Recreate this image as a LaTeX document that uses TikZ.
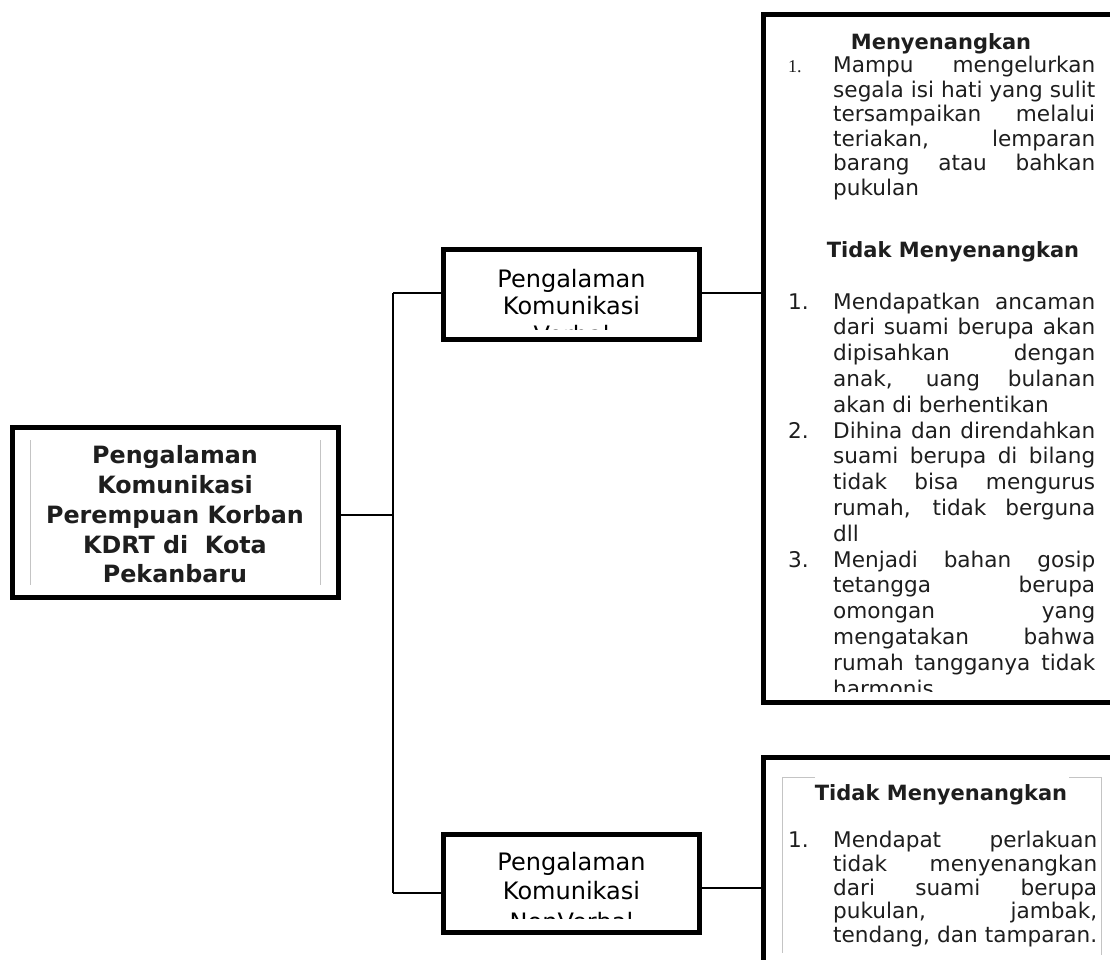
\documentclass[tikz,border=0pt]{standalone}
\usepackage{fontspec}
\setmainfont{DejaVu Sans}
\newfontfamily\numserif{Liberation Serif}
\definecolor{ink}{HTML}{1E1E1E}
\definecolor{framegrey}{HTML}{C4C4C4}
\newcommand\jl[2]{\makebox[#1][s]{#2}}
\tikzset{
  boxnode/.style={draw=black, line width=5pt, fill=white, inner sep=0pt},
  conn/.style={draw=black, line width=1.8pt},
  thinframe/.style={draw=framegrey, line width=1pt},
  ln/.style={anchor=base west, inner sep=0pt, text=ink, font=\fontsize{21.6}{25}\selectfont},
  num/.style={anchor=base west, inner sep=0pt, text=ink, font=\fontsize{21.6}{25}\selectfont},
  head/.style={anchor=base, inner sep=0pt, text=ink, font=\fontsize{21}{25}\selectfont\bfseries},
  mainln/.style={anchor=base, inner sep=0pt, text=ink, font=\fontsize{23.8}{29}\selectfont\bfseries},
  midln/.style={anchor=base, inner sep=0pt, text=black, font=\fontsize{24}{27}\selectfont},
}
\begin{document}
\begin{tikzpicture}[x=1pt,y=-1pt]
\useasboundingbox (0,0) rectangle (1110,960);
\clip (0,0) rectangle (1110,960);
\fill[white] (0,0) rectangle (1110,960);

% boxes
\node[boxnode, minimum width=326pt, minimum height=170pt] (main) at (175.5,512.5) {};
\node[boxnode, minimum width=256pt, minimum height=90pt] (verbal) at (571.5,294.5) {};
\node[boxnode, minimum width=256pt, minimum height=98pt] (nonverbal) at (571.5,883.5) {};
\node[boxnode, minimum width=356.5pt, minimum height=688pt] (big1) at (941.75,358.5) {};
\node[boxnode, minimum width=356.5pt, minimum height=217.5pt] (big2) at (941.75,866.25) {};

% connectors
\coordinate (jmid) at (393,515);
\coordinate (jtop) at (393,293);
\coordinate (jbot) at (393,893);
\coordinate (jnv) at (702,888);
\draw[conn] (main.east |- jmid) -- (jmid);
\draw[conn] (jtop) -- (jbot);
\draw[conn] (jtop) -- (verbal.west |- jtop);
\draw[conn] (jbot) -- (nonverbal.west |- jbot);
\draw[conn] (verbal.east |- jtop) -- (big1.west |- jtop);
\draw[conn] (nonverbal.east |- jnv) -- (big2.west |- jnv);

% main box inner grey lines
\draw[thinframe] (30,440) -- (30,585);
\draw[thinframe] (320,440) -- (320,585);
\node[mainln] (m1) at (175,463) {Pengalaman};
\node[mainln] (m2) at (175,493) {Komunikasi};
\node[mainln] (m3) at (175,523) {Perempuan Korban};
\node[mainln] (m4) at (175,553) {KDRT di\ \ Kota};
\node[mainln] (m5) at (175,582) {Pekanbaru};

% verbal text (clipped)
\begin{scope}
\clip (446,252) rectangle (697,329);
\node[midln] (v1) at (571.5,287) {Pengalaman};
\node[midln] (v2) at (571.5,314) {Komunikasi};
\node[midln] (v3) at (571.5,343.5) {Verbal};
\end{scope}

% nonverbal text (clipped)
\begin{scope}
\clip (446,837) rectangle (697,918);
\node[midln] (n1) at (571.5,870.5) {Pengalaman};
\node[midln] (n2) at (571.5,899) {Komunikasi};
\node[midln] (n3) at (571.5,930.5) {NonVerbal};
\end{scope}

% big box 1, section 1
\node[head] (h1) at (941,50) {Menyenangkan};
\node[anchor=base west, inner sep=0pt, text=ink, font=\fontsize{18}{20}\selectfont\numserif] (a1) at (788,73) {1.};
\node[ln] (a1l1) at (833,73) {\jl{262pt}{Mampu mengelurkan}};
\node[ln] (a1l2) at (833,97.5) {\jl{262pt}{segala isi hati yang sulit}};
\node[ln] (a1l3) at (833,122) {\jl{262pt}{tersampaikan melalui}};
\node[ln] (a1l4) at (833,146.5) {\jl{262pt}{teriakan, lemparan}};
\node[ln] (a1l5) at (833,171) {\jl{262pt}{barang atau bahkan}};
\node[ln] (a1l6) at (833,195.5) {pukulan};

% big box 1, section 2
\node[head] (h2) at (953,257) {Tidak Menyenangkan};
\begin{scope}
\clip (768,265) rectangle (1110,691);
\node[num] (b1) at (788,309) {1.};
\node[ln] (b1l1) at (833,309) {\jl{262pt}{Mendapatkan ancaman}};
\node[ln] (b1l2) at (833,334.8) {\jl{262pt}{dari suami berupa akan}};
\node[ln] (b1l3) at (833,360.6) {\jl{262pt}{dipisahkan dengan}};
\node[ln] (b1l4) at (833,386.4) {\jl{262pt}{anak, uang bulanan}};
\node[ln] (b1l5) at (833,412.2) {akan di berhentikan};
\node[num] (b2) at (788,438) {2.};
\node[ln] (b2l1) at (833,438) {\jl{262pt}{Dihina dan direndahkan}};
\node[ln] (b2l2) at (833,463.8) {\jl{262pt}{suami berupa di bilang}};
\node[ln] (b2l3) at (833,489.6) {\jl{262pt}{tidak bisa mengurus}};
\node[ln] (b2l4) at (833,515.4) {\jl{262pt}{rumah, tidak berguna}};
\node[ln] (b2l5) at (833,541.2) {dll};
\node[num] (b3) at (788,567) {3.};
\node[ln] (b3l1) at (833,567) {\jl{262pt}{Menjadi bahan gosip}};
\node[ln] (b3l2) at (833,592.8) {\jl{262pt}{tetangga berupa}};
\node[ln] (b3l3) at (833,618.6) {\jl{262pt}{omongan yang}};
\node[ln] (b3l4) at (833,644.4) {\jl{262pt}{mengatakan bahwa}};
\node[ln] (b3l5) at (833,670.2) {\jl{262pt}{rumah tangganya tidak}};
\node[ln] (b3l6) at (833,696) {harmonis};
\end{scope}

% big box 2
\draw[thinframe] (815,777) -- (782,777) -- (782,953);
\draw[thinframe] (1069,777) -- (1101,777) -- (1101,955);
\node[head] (h3) at (941,800) {Tidak Menyenangkan};
\node[num] (c1) at (788,847) {1.};
\node[ln] (c1l1) at (833,847) {\jl{264pt}{Mendapat perlakuan}};
\node[ln] (c1l2) at (833,871) {\jl{264pt}{tidak menyenangkan}};
\node[ln] (c1l3) at (833,895) {\jl{264pt}{dari suami berupa}};
\node[ln] (c1l4) at (833,918.5) {\jl{264pt}{pukulan, jambak,}};
\node[ln] (c1l5) at (833,942) {\jl{264pt}{tendang, dan tamparan.}};
\end{tikzpicture}
\end{document}
